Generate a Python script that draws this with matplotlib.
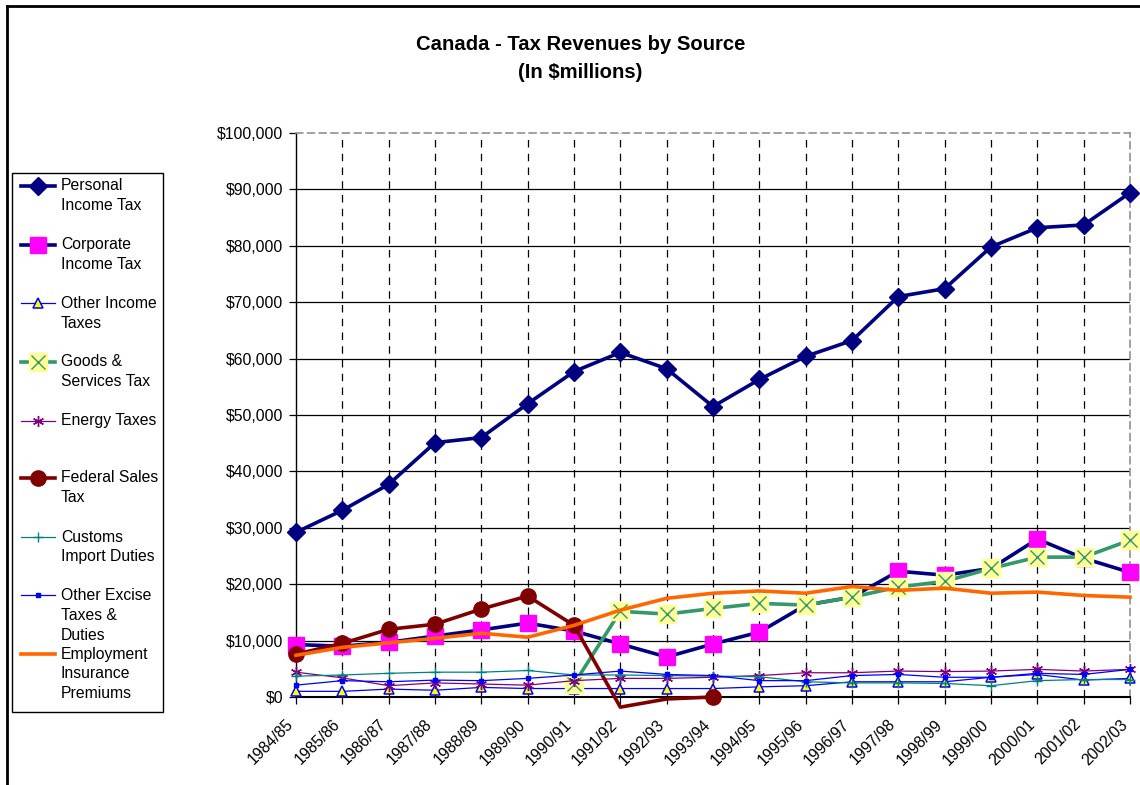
import numpy as np
import matplotlib.pyplot as plt
import matplotlib.transforms as mtransforms
from matplotlib.lines import Line2D
from matplotlib.patches import Rectangle
from matplotlib.ticker import FuncFormatter, MultipleLocator

plt.rcParams["font.family"] = ["Liberation Sans", "DejaVu Sans"]

years = ["1984/85", "1985/86", "1986/87", "1987/88", "1988/89", "1989/90",
         "1990/91", "1991/92", "1992/93", "1993/94", "1994/95", "1995/96",
         "1996/97", "1997/98", "1998/99", "1999/00", "2000/01", "2001/02",
         "2002/03"]

nan = np.nan
personal_income = [29200, 33100, 37700, 45100, 46000, 52000, 57700, 61100, 58200,
                   51500, 56300, 60400, 63200, 71000, 72400, 79800, 83200, 83700, 89400]
corporate_income = [9300, 9000, 9700, 10800, 11900, 13100, 11700, 9400, 7100,
                    9400, 11500, 16300, 17700, 22300, 21600, 22800, 28000, 24600, 22100]
other_income = [1000, 1000, 1400, 1200, 1700, 1500, 1500, 1500, 1500,
                1500, 1800, 2000, 2700, 2700, 2700, 3500, 4000, 3000, 3300]
gst = [nan, nan, nan, nan, nan, nan, 2300, 15200, 14700,
       15700, 16600, 16300, 17700, 19500, 20500, 22800, 24800, 24800, 27800]
energy = [4400, 3400, 2000, 2500, 2300, 2100, 2900, 3300, 3300,
          3500, 3800, 4300, 4300, 4600, 4500, 4600, 4900, 4600, 4900]
federal_sales = [7600, 9500, 12000, 12900, 15600, 17900, 12700, -1800, -350,
                 0, nan, nan, nan, nan, nan, nan, nan, nan, nan]
customs = [3700, 3900, 4200, 4400, 4400, 4700, 3900, 3900, 3800,
           3700, 3600, 2700, 2500, 2500, 2400, 2000, 2900, 3100, 3100]
other_excise = [2100, 2900, 2700, 3000, 2900, 3300, 3900, 4600, 4000,
                3800, 2900, 2900, 3800, 4000, 3500, 3500, 4200, 4000, 4900]
employment_ins = [7400, 8800, 9600, 10400, 11300, 10600, 12700, 15400, 17500,
                  18400, 18800, 18400, 19600, 18900, 19300, 18400, 18600, 18000, 17700]

W, H = 1140, 785
FS = 11.3


def fx(px):
    return px / W


def fy(py):
    return 1 - py / H


# label, values, line style, marker layers (drawn in order)
series = [
    ("Personal\nIncome Tax", personal_income,
     dict(color="#000080", lw=2.6),
     [dict(marker="D", ms=9.5, mfc="#000080", mec="#000080")]),
    ("Corporate\nIncome Tax", corporate_income,
     dict(color="#000080", lw=2.6),
     [dict(marker="s", ms=11, mfc="#FF00FF", mec="#FF00FF")]),
    ("Other Income\nTaxes", other_income,
     dict(color="#0000FF", lw=0.9),
     [dict(marker="^", ms=7, mfc="#FFFF00", mec="#0000FF", mew=1.1)]),
    ("Goods &\nServices Tax", gst,
     dict(color="#339966", lw=2.6),
     [dict(marker="s", ms=13, mfc="#FFFF99", mec="#FFFF99"),
      dict(marker="x", ms=10, mec="#339966", mew=1.0)]),
    ("Energy Taxes", energy,
     dict(color="#800080", lw=0.9),
     [dict(marker=(6, 2, 0), ms=8, mec="#800080", mew=1.0)]),
    ("Federal Sales\nTax", federal_sales,
     dict(color="#800000", lw=2.6),
     [dict(marker="o", ms=11, mfc="#800000", mec="#800000")]),
    ("Customs\nImport Duties", customs,
     dict(color="#008080", lw=0.9),
     [dict(marker="+", ms=7, mec="#008080", mew=1.0)]),
    ("Other Excise\nTaxes &\nDuties", other_excise,
     dict(color="#0000FF", lw=0.9),
     [dict(marker="s", ms=3.5, mfc="#0000FF", mec="#0000FF")]),
    ("Employment\nInsurance\nPremiums", employment_ins,
     dict(color="#FF6600", lw=2.6),
     []),
]

fig = plt.figure(figsize=(W / 100, H / 100), dpi=100)
ax = fig.add_axes([fx(296), fy(697), fx(1130) - fx(296), fy(133) - fy(697)])

x = np.arange(len(years))

# later series are painted over earlier ones
for n, (label, vals, line_kw, marker_layers) in enumerate(series):
    vals = np.asarray(vals, dtype=float)
    z = 3 + n * 0.1
    ax.plot(x, vals, clip_on=False, zorder=z, **line_kw)
    keep = vals >= 0
    for mk in marker_layers:
        ax.plot(x[keep], vals[keep], ls="none", clip_on=False, zorder=z + 0.01, **mk)

ax.set_xlim(0, len(years) - 1)
ax.set_ylim(0, 100000)
ax.yaxis.set_major_locator(MultipleLocator(10000))
ax.yaxis.set_major_formatter(FuncFormatter(lambda v, p: f"${v:,.0f}"))
ax.set_xticks(x)
ax.set_xticklabels(years, rotation=45, ha="right", va="center",
                   rotation_mode="anchor", fontsize=FS)
ax.tick_params(axis="y", direction="out", length=5, width=0.9, labelsize=FS, pad=4)
ax.tick_params(axis="x", direction="out", length=5, width=0.9, pad=13)
shift = mtransforms.ScaledTranslation(-5 / 100, 0, fig.dpi_scale_trans)
for lbl in ax.get_xticklabels():
    lbl.set_transform(lbl.get_transform() + shift)

# horizontal gridlines solid, vertical dashed
for v in range(10000, 100000, 10000):
    ax.axhline(v, color="black", lw=0.9, zorder=1)
for i in x[1:-1]:
    ax.axvline(i, color="black", lw=0.9, ls=(0, (6, 5)), zorder=1)

for side in ("top", "right"):
    ax.spines[side].set_color("#909090")
    ax.spines[side].set_linestyle((0, (4, 3)))
    ax.spines[side].set_linewidth(1.2)
ax.spines["left"].set_linewidth(1.0)
ax.spines["bottom"].set_linewidth(1.5)

fig.text(fx(581), fy(45), "Canada - Tax Revenues by Source", ha="center",
         va="center", fontsize=14.6, fontweight="bold")
fig.text(fx(580), fy(72), "(In $millions)", ha="center", va="center",
         fontsize=14.6, fontweight="bold")

# chart area frame
fig.add_artist(Line2D([fx(7), fx(7)], [fy(6), -0.1], color="black", lw=2.0))
fig.add_artist(Line2D([fx(7), 1.1], [fy(6), fy(6)], color="black", lw=2.0))

# legend box
fig.add_artist(Rectangle((fx(12), fy(712)), fx(163) - fx(12), fy(173) - fy(712),
                         fill=False, ec="black", lw=1.0, transform=fig.transFigure))
entry_y = [186, 245, 303, 362, 421, 478, 537, 595, 654]
for (label, vals, line_kw, marker_layers), yy in zip(series, entry_y):
    fig.add_artist(Line2D([fx(21), fx(55)], [fy(yy), fy(yy)], **line_kw))
    for mk in marker_layers:
        fig.add_artist(Line2D([fx(38)], [fy(yy)], ls="none", **mk))
    for k, part in enumerate(label.split("\n")):
        fig.text(fx(61), fy(yy + 20 * k), part, ha="left", va="center", fontsize=FS)

fig.savefig("out.png", dpi=100)
